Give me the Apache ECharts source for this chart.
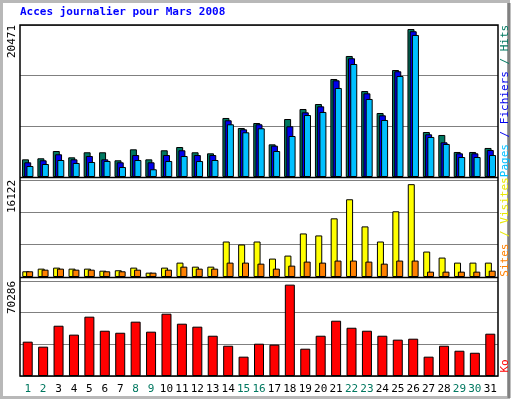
<!DOCTYPE html>
<html><head><meta charset="utf-8">
<script src="https://cdn.jsdelivr.net/npm/echarts@6/dist/echarts.min.js"></script>
<style>html,body{margin:0;padding:0;background:#fff}#c{width:512px;height:400px}</style>
</head><body><div id="c"></div>
<script>
const days = ['1','2','3','4','5','6','7','8','9','10','11','12','13','14','15','16','17','18','19','20','21','22','23','24','25','26','27','28','29','30','31'];
const weekend = ['1','2','8','9','15','16','22','23','29','30'];
const hits = [2380,2520,3500,2650,3330,3330,2250,3730,2380,3600,4040,3330,3190,7950,6600,7270,4400,7810,9160,9830,13200,16300,11580,8620,14410,19930,6060,5660,3370,3370,3910];
const files = [1980,2250,3060,2380,2830,2380,1980,2960,1980,2960,3600,2960,2960,7640,6420,7100,4220,6830,8710,9520,13020,15990,11270,8310,14240,19630,5750,4670,3190,3190,3640];
const pages = [1480,1750,2290,1890,2020,2160,1350,2290,1040,2160,2830,2160,2290,7100,6020,6560,3500,5520,8350,8760,11990,15220,10510,7680,13600,19130,5390,4450,2690,2690,2960];
const visits = [950,1390,1560,1390,1390,1050,1120,1560,720,1560,2390,1720,1720,5900,5400,5900,3060,3560,7240,6910,9750,12920,8410,5900,10920,15430,4230,3230,2390,2390,2390];
const sites = [950,1220,1390,1220,1220,950,950,1220,720,1220,1720,1390,1390,2390,2390,2220,1390,1890,2560,2390,2730,2730,2560,2220,2730,2730,890,890,890,890,1050];
const ko = [25400,21700,37200,30600,43900,33500,32000,40200,32800,46100,38700,36500,29800,22400,14300,23900,23200,67600,20200,29800,40900,35700,33500,29800,26900,27600,14300,22400,18700,17200,31300];
const maxTop = 20471, maxMid = 16122, maxBot = 70286;

const F = '"DejaVu Sans Mono", monospace';
const chart = echarts.init(document.getElementById('c'));
const L = 20, R = 498;
function yAx(i, m){return {gridIndex:i,min:0,max:m,interval:m/3,axisLabel:{show:false},axisLine:{show:false},axisTick:{show:false},splitLine:{show:true,lineStyle:{color:'#808080',width:1}}};}
function xAx(i, show){return {type:'category',gridIndex:i,data:days,axisLine:{show:false},axisTick:{show:false},
  axisLabel:{show:show,interval:0,margin:8,fontFamily:F,fontSize:11,color:function(v){return weekend.indexOf(v)>=0?'#007860':'#000';}}};}
const bs = {borderColor:'#000',borderWidth:1};
function vtext(x,y,rich,align,va){return {type:'text',x:x,y:y,rotation:Math.PI/2,style:{rich:rich.r,text:rich.t,align:align,verticalAlign:va,fontFamily:F,fontSize:11}};}
chart.setOption({
  animation:false,
  grid:[{left:L,width:R-L,top:25,height:152},{left:L,width:R-L,top:180,height:97},{left:L,width:R-L,top:281,height:95}],
  xAxis:[xAx(0,false),xAx(1,false),xAx(2,true)],
  yAxis:[yAx(0,maxTop),yAx(1,maxMid),yAx(2,maxBot)],
  series:[
    {type:'bar',name:'Hits',xAxisIndex:0,yAxisIndex:0,data:hits,barWidth:7,barGap:'-68%',itemStyle:Object.assign({color:'#007860'},bs)},
    {type:'bar',name:'Fichiers',xAxisIndex:0,yAxisIndex:0,data:files,barWidth:7,barGap:'-68%',itemStyle:Object.assign({color:'#0000ee'},bs)},
    {type:'bar',name:'Pages',xAxisIndex:0,yAxisIndex:0,data:pages,barWidth:7,barGap:'-68%',itemStyle:Object.assign({color:'#00c0ff'},bs)},
    {type:'bar',name:'Visites',xAxisIndex:1,yAxisIndex:1,data:visits,barWidth:7,barGap:'-45%',itemStyle:Object.assign({color:'#ffff00'},bs)},
    {type:'bar',name:'Sites',xAxisIndex:1,yAxisIndex:1,data:sites,barWidth:7,barGap:'-45%',itemStyle:Object.assign({color:'#ff8000'},bs)},
    {type:'bar',name:'Ko',xAxisIndex:2,yAxisIndex:2,data:ko,barWidth:10,itemStyle:Object.assign({color:'#ff0000'},bs)}
  ],
  graphic:[
    {type:'rect',z:-10,shape:{x:1.5,y:1.5,width:507,height:396},style:{fill:'#fff',stroke:'#b8b8b8',lineWidth:3}},
    {type:'line',shape:{x1:509,y1:3,x2:509,y2:398},style:{stroke:'#808080',lineWidth:3}},
    {type:'rect',z:100,shape:{x:L,y:25,width:R-L,height:351},style:{fill:null,stroke:'#000',lineWidth:1.5}},
    {type:'line',z:100,shape:{x1:L,y1:177.5,x2:R,y2:177.5},style:{stroke:'#000',lineWidth:1.5}},
    {type:'line',z:100,shape:{x1:L,y1:277.5,x2:R,y2:277.5},style:{stroke:'#000',lineWidth:1.5}},
    {type:'text',x:20,y:7,style:{text:'Acces journalier pour Mars 2008',fontFamily:F,fontSize:11,fontWeight:'bold',fill:'#0000ff'}},
    vtext(18,25,{t:String(maxTop),r:{}},'right','bottom'),
    vtext(18,180,{t:String(maxMid),r:{}},'right','bottom'),
    vtext(18,281,{t:String(maxBot),r:{}},'right','bottom'),
    vtext(500,101,{t:'{p|Pages} {f|/ Fichiers} {h|/ Hits}',r:{p:{fill:'#00c0ff',fontFamily:F,fontSize:11},f:{fill:'#0000ee',fontFamily:F,fontSize:11},h:{fill:'#007860',fontFamily:F,fontSize:11}}},'center','top'),
    vtext(500,227,{t:'{s|Sites} {v|/ Visites}',r:{s:{fill:'#ff8000',fontFamily:F,fontSize:11},v:{fill:'#e8e800',fontFamily:F,fontSize:11}}},'center','top'),
    vtext(500,366,{t:'{k|Ko}',r:{k:{fill:'#ff0000',fontFamily:F,fontSize:11}}},'center','top')
  ]
});
</script></body></html>
